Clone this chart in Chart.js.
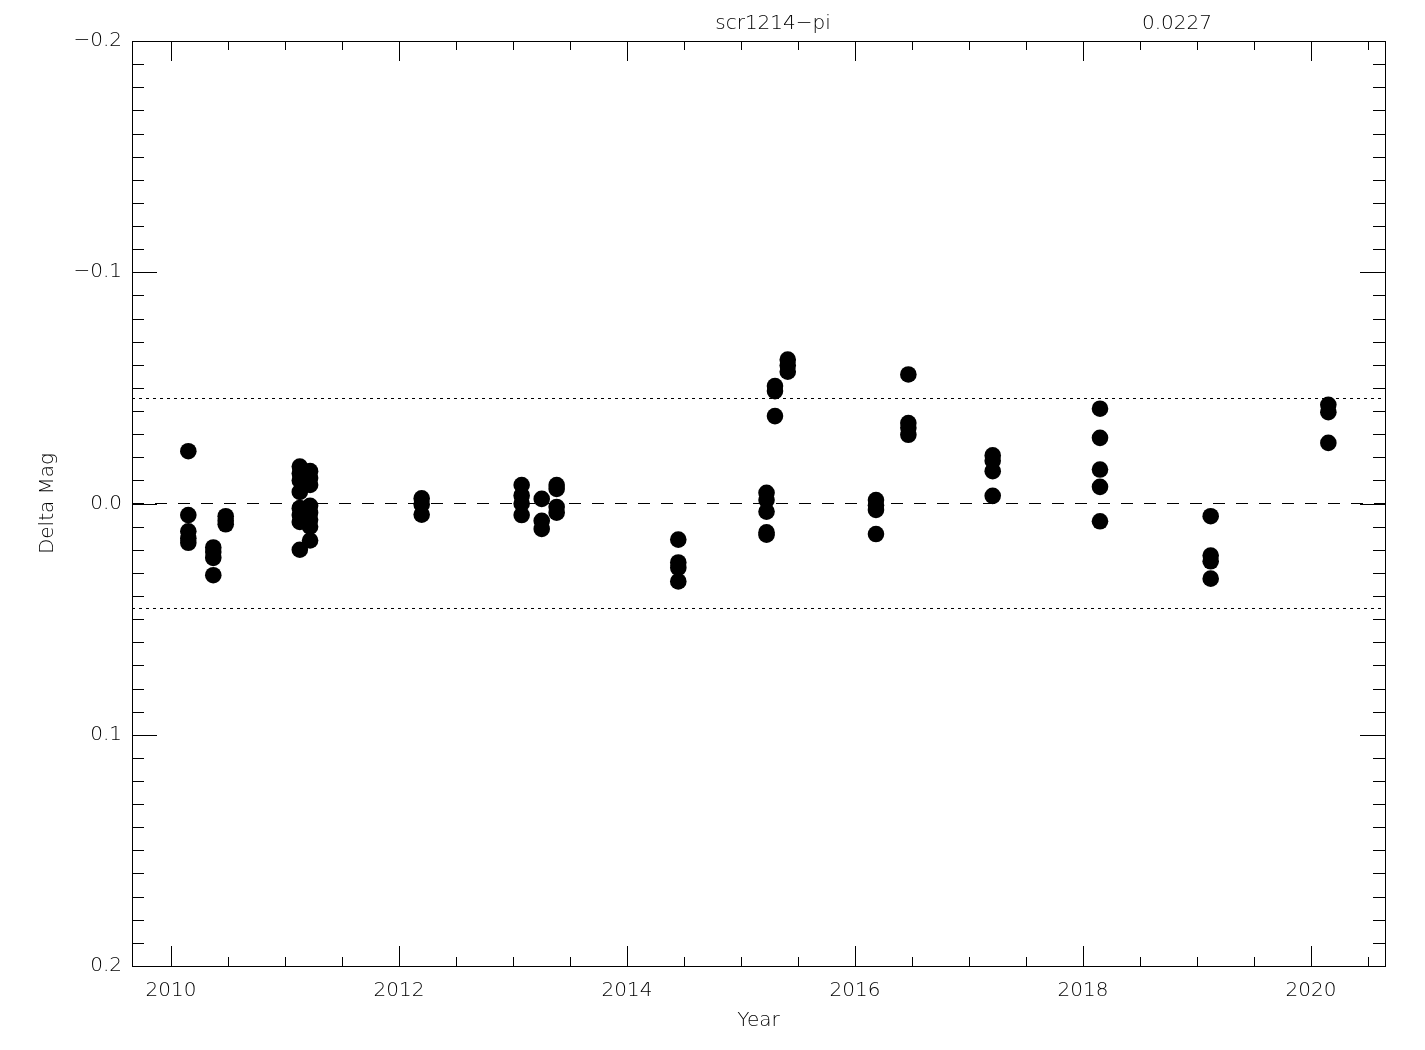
<!DOCTYPE html>
<html>
<head>
<meta charset="utf-8">
<script src="https://cdn.jsdelivr.net/npm/chart.js@4/dist/chart.umd.min.js"></script>
<style>
  body { margin: 0; background: #fff; }
  #wrap { width: 1425px; height: 1050px; }
</style>
</head>
<body>
<div id="wrap"><canvas id="lc" width="1425" height="1050"></canvas></div>
<script>
// photometry of one star, delta mag vs epoch
const starName = 'scr1214\u2212pi';
const rmsMag = 0.0227;

const epochs = [
  2010.152, 2010.371, 2010.48, 2011.13, 2011.22, 2012.199, 2013.076, 2013.252,
  2013.383, 2014.45, 2015.224, 2015.298, 2015.41, 2016.184, 2016.468, 2017.208,
  2018.149, 2019.12, 2020.152
];
const deltaMags = [
  [-0.0226, 0.005, 0.012, 0.015, 0.017],
  [0.019, 0.021, 0.0235, 0.031],
  [0.0055, 0.0075, 0.009],
  [-0.016, -0.013, -0.010, -0.005, 0.002, 0.005, 0.008, 0.020],
  [-0.014, -0.011, -0.008, 0.001, 0.004, 0.007, 0.010, 0.016],
  [-0.0022, 0.0004, 0.0048],
  [-0.008, -0.0035, 0.0, 0.005],
  [-0.002, 0.0075, 0.011],
  [-0.008, -0.0063, 0.0015, 0.004],
  [0.0156, 0.0255, 0.0278, 0.0337],
  [-0.0046, -0.0015, 0.0035, 0.0125, 0.0135],
  [-0.0508, -0.0486, -0.0378],
  [-0.0622, -0.0597, -0.057],
  [-0.0015, 0.0008, 0.0028, 0.0132],
  [-0.0558, -0.0348, -0.0328, -0.0297],
  [-0.0208, -0.0185, -0.014, -0.0033],
  [-0.041, -0.0284, -0.0147, -0.0072, 0.0077],
  [0.0055, 0.0225, 0.025, 0.0325],
  [-0.0427, -0.0395, -0.0262]
];

const yearTicks = [2010, 2012, 2014, 2016, 2018, 2020];
const magTicks = [-0.2, -0.1, 0.0, 0.1, 0.2];
const xRange = [2009.658, 2020.649];
const yRange = [-0.2, 0.2];

const points = [];
epochs.forEach((t, i) => deltaMags[i].forEach(m => points.push({x: t, y: m})));

function hline(y, dash) {
  return {
    type: 'line',
    data: [{x: xRange[0], y: y}, {x: xRange[1], y: y}],
    borderColor: '#000',
    borderWidth: 1,
    borderDash: dash,
    pointRadius: 0,
    fill: false
  };
}

const fmtMag = v => (v < 0 ? '\u2212' : '') + Math.abs(v).toFixed(1);

// IDL style box with inward ticks on all four sides
const frameTicks = {
  id: 'frameTicks',
  afterDatasetsDraw(chart) {
    const {ctx, chartArea: a, scales} = chart;
    const px = v => Math.round(v) + 0.5;
    ctx.save();
    ctx.strokeStyle = '#000';
    ctx.lineWidth = 1;
    ctx.beginPath();
    for (let i = Math.ceil(xRange[0] * 2); i <= Math.floor(xRange[1] * 2); i++) {
      const len = i % 4 === 0 ? 20 : 9;
      const x = px(scales.x.getPixelForValue(i / 2));
      ctx.moveTo(x, a.bottom); ctx.lineTo(x, a.bottom - len);
      ctx.moveTo(x, a.top); ctx.lineTo(x, a.top + len);
    }
    for (let i = -20; i <= 20; i++) {
      const len = i % 10 === 0 ? 25 : 12;
      const y = px(scales.y.getPixelForValue(i / 100));
      ctx.moveTo(a.left, y); ctx.lineTo(a.left + len, y);
      ctx.moveTo(a.right, y); ctx.lineTo(a.right - len, y);
    }
    ctx.stroke();
    ctx.strokeRect(px(a.left), px(a.top), Math.round(a.right - a.left), Math.round(a.bottom - a.top));

    ctx.fillStyle = '#000';
    ctx.font = '200 20px "DejaVu Sans"';
    ctx.textAlign = 'center';
    ctx.textBaseline = 'middle';
    const w = a.right - a.left;
    ctx.fillText(starName, a.left + 0.5116 * w, 24);
    ctx.fillText(rmsMag.toFixed(4), a.left + 0.834 * w, 24);
    ctx.restore();
  }
};

Chart.defaults.font.family = 'DejaVu Sans';
Chart.defaults.font.size = 20;
Chart.defaults.font.weight = '200';
Chart.defaults.color = '#000';

new Chart(document.getElementById('lc'), {
  type: 'scatter',
  data: {
    datasets: [
      hline(0, [12, 11]),
      hline(-2 * rmsMag, [3, 4]),
      hline(2 * rmsMag, [3, 4]),
      {
        data: points,
        backgroundColor: '#000',
        borderWidth: 0,
        pointRadius: 8.3
      }
    ]
  },
  options: {
    responsive: false,
    animation: false,
    events: [],
    layout: { padding: 0 },
    plugins: { legend: { display: false }, tooltip: { enabled: false } },
    scales: {
      x: {
        type: 'linear',
        position: 'bottom',
        min: xRange[0],
        max: xRange[1],
        afterBuildTicks: s => { s.ticks = yearTicks.map(v => ({value: v})); },
        afterFit: s => { s.height = 84; },
        grid: { display: false, drawTicks: false },
        border: { display: false },
        ticks: { padding: 13, callback: v => String(v) },
        title: { display: true, text: 'Year', padding: { bottom: 17, top: 0 } }
      },
      xTop: {
        type: 'linear',
        position: 'top',
        min: xRange[0],
        max: xRange[1],
        afterFit: s => { s.height = 41; },
        grid: { display: false, drawTicks: false },
        border: { display: false },
        ticks: { display: false }
      },
      y: {
        type: 'linear',
        position: 'left',
        reverse: true,
        min: yRange[0],
        max: yRange[1],
        afterBuildTicks: s => { s.ticks = magTicks.map(v => ({value: v})); },
        afterFit: s => { s.width = 132; },
        grid: { display: false, drawTicks: false },
        border: { display: false },
        ticks: { padding: 10, callback: fmtMag },
        title: { display: true, text: 'Delta Mag', padding: { top: 36, bottom: 0 } }
      },
      yRight: {
        type: 'linear',
        position: 'right',
        min: yRange[0],
        max: yRange[1],
        afterFit: s => { s.width = 40; },
        grid: { display: false, drawTicks: false },
        border: { display: false },
        ticks: { display: false }
      }
    }
  },
  plugins: [frameTicks]
});
</script>
</body>
</html>
